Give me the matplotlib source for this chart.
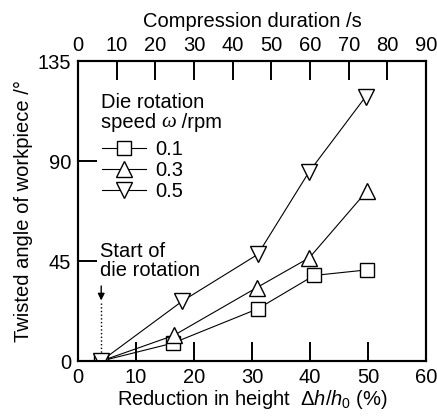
import matplotlib
matplotlib.use('Agg')
import matplotlib.pyplot as plt

# font setup (Arial-like)
plt.rcParams['font.family'] = ['Liberation Sans', 'DejaVu Sans']
plt.rcParams['mathtext.fontset'] = 'custom'
plt.rcParams['mathtext.rm'] = 'Liberation Sans'
plt.rcParams['mathtext.it'] = 'Liberation Sans:italic'
plt.rcParams['font.size'] = 14.5

# data
reduction_01 = [4, 16.3, 31, 40.7, 49.8]
angle_01 = [0, 8, 23.5, 38.5, 41]
reduction_03 = [4, 16.5, 30.8, 39.9, 49.8]
angle_03 = [0, 11.5, 33, 46.5, 76.5]
reduction_05 = [4, 18, 31, 39.8, 49.6]
angle_05 = [0, 27, 48, 85, 119]
speed_labels = ['0.1', '0.3', '0.5']
start_x = 4

fig = plt.figure(figsize=(4.37, 4.19), dpi=100)
ax = fig.add_axes([0.1785, 0.1384, 0.7965, 0.716])

mk = dict(color='black', lw=0.8, markerfacecolor='white', markeredgecolor='black',
          markeredgewidth=1.0, zorder=3)
l1, = ax.plot(reduction_01, angle_01, marker='s', markersize=10, **mk)
l2, = ax.plot(reduction_03, angle_03, marker='^', markersize=11, **mk)
l3, = ax.plot(reduction_05, angle_05, marker='v', markersize=11, **mk)

ax.set_xlim(0, 60)
ax.set_ylim(0, 135)
ax.set_xticks(range(0, 61, 10))
ax.set_yticks([0, 45, 90, 135])
ax.tick_params(axis='x', direction='in', length=14, width=1.4, pad=5, top=False)
ax.tick_params(axis='y', direction='in', length=14, width=1.4, pad=5, right=False)
for s in ax.spines.values():
    s.set_linewidth(1.5)

ax.set_xlabel('Reduction in height  $\\Delta h/h_0$ (%)', labelpad=1)
ax.set_ylabel('Twisted angle of workpiece /°', labelpad=3)

# top axis: compression duration
ax2 = ax.twiny()
ax2.set_xlim(0, 90)
ax2.set_xticks(range(0, 91, 10))
ax2.tick_params(axis='x', direction='in', length=14, width=1.4, pad=4)
ax2.set_xlabel('Compression duration /s', labelpad=7)
for s in ax2.spines.values():
    s.set_linewidth(1.5)

# legend
ax.legend([l1, l2, l3], speed_labels, loc='upper left', bbox_to_anchor=(0.069, 0.737),
          frameon=False, borderpad=0, borderaxespad=0, handlelength=2.2,
          handletextpad=0.45, labelspacing=0.1)
ax.text(0.065, 0.845, 'Die rotation', transform=ax.transAxes, va='baseline')
t1 = ax.text(0.065, 0.778, 'speed ', transform=ax.transAxes, va='baseline')
t2 = ax.annotate('ω', xy=(1, 0), xycoords=t1, va='bottom', ha='left',
                 family='Liberation Serif', style='italic', fontsize=15)
ax.annotate(' /rpm', xy=(1, 0), xycoords=t2, va='bottom', ha='left')

# start of die rotation
ax.text(3.8, 36.5, 'Start of\ndie rotation', va='bottom', ha='left', linespacing=1.0)
ax.annotate('', xy=(start_x, 26), xytext=(start_x, 35),
            arrowprops=dict(arrowstyle='-|>', color='black', lw=1, mutation_scale=10))
ax.plot([start_x, start_x], [26, 0], color='black', lw=1, linestyle=':', zorder=2)

fig.savefig('out.png', dpi=100)
